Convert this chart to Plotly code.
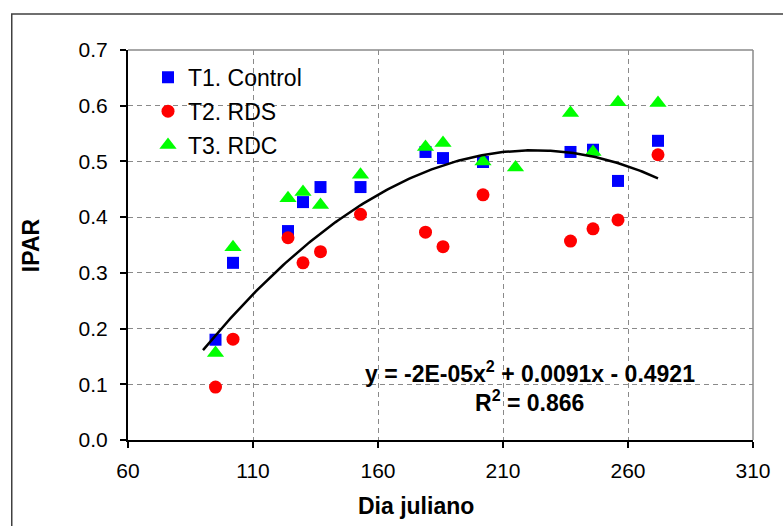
import numpy as np
import plotly.graph_objects as go

# Julian day of each sampling date
dias_t1 = [95, 102, 124, 130, 137, 153, 179, 186, 202, 237, 246, 256, 272]
ipar_t1 = [0.180, 0.318, 0.375, 0.427, 0.454, 0.454, 0.517, 0.506, 0.499, 0.517, 0.521, 0.465, 0.537]

dias_t2 = [95, 102, 124, 130, 137, 153, 179, 186, 202, 237, 246, 256, 272]
ipar_t2 = [0.095, 0.181, 0.363, 0.318, 0.338, 0.405, 0.373, 0.347, 0.440, 0.357, 0.379, 0.395, 0.512]

dias_t3 = [95, 102, 124, 130, 137, 153, 179, 186, 202, 215, 237, 246, 256, 272]
ipar_t3 = [0.156, 0.346, 0.434, 0.445, 0.422, 0.476, 0.526, 0.533, 0.500, 0.489, 0.587, 0.517, 0.606, 0.605]

series_names = ["T1. Control", "T2. RDS", "T3. RDC"]

# Polynomial trendline coefficients (a*x^2 + b*x + c)
trend_coef = [-2.0455e-05, 0.0091, -0.4921]
trend_range = [90, 272]
trend_lines = ["y = -2E-05x<sup>2</sup> + 0.0091x - 0.4921", "R<sup>2</sup> = 0.866"]

x_ticks = [60, 110, 160, 210, 260, 310]
y_ticks = [0.0, 0.1, 0.2, 0.3, 0.4, 0.5, 0.6, 0.7]

FONT = "Liberation Sans, Arial, sans-serif"
GRID = "#8a8a8a"

fig = go.Figure()

fig.add_trace(go.Scatter(
    x=dias_t1, y=ipar_t1, mode="markers", name=series_names[0], legendgroup="t1",
    marker=dict(symbol="square", size=12, color="#0000ff", line=dict(width=0)),
))
fig.add_trace(go.Scatter(
    x=dias_t2, y=ipar_t2, mode="markers", name=series_names[1], legendgroup="t2",
    marker=dict(symbol="circle", size=13, color="#ff0000", line=dict(width=0)),
))
fig.add_trace(go.Scatter(
    x=dias_t3, y=ipar_t3, mode="markers", name=series_names[2], legendgroup="t3",
    marker=dict(symbol="triangle-up", size=15, color="#00ff00", line=dict(width=0)),
))

xt = np.linspace(trend_range[0], trend_range[1], 200)
yt = np.polyval(trend_coef, xt)
fig.add_trace(go.Scatter(
    x=xt, y=yt, mode="lines", showlegend=False, hoverinfo="skip",
    line=dict(color="black", width=2.5),
))

fig.update_xaxes(
    range=[60, 310], tickvals=x_ticks, ticktext=[str(v) for v in x_ticks],
    showline=True, linecolor="black", linewidth=2,
    ticks="outside", ticklen=6, tickwidth=1.5, tickcolor="black",
    showgrid=True, gridcolor=GRID, gridwidth=1.3, griddash="5px,4px",
    zeroline=False, tickfont=dict(family=FONT, size=21, color="black"),
    ticklabelstandoff=5,
)
fig.update_yaxes(
    range=[0, 0.7], tickvals=y_ticks, ticktext=[f"{v:.1f}" for v in y_ticks],
    showline=True, linecolor="black", linewidth=2,
    ticks="outside", ticklen=6, tickwidth=1.5, tickcolor="black",
    showgrid=True, gridcolor=GRID, gridwidth=1.3, griddash="5px,4px",
    zeroline=False, tickfont=dict(family=FONT, size=21, color="black"),
    ticklabelstandoff=8,
)

# Axis titles
fig.add_annotation(
    xref="paper", yref="paper", x=0.46, y=-0.169, xanchor="center", yanchor="middle",
    showarrow=False, text="<b>Dia juliano</b>",
    font=dict(family=FONT, size=23, color="black"),
)
fig.add_annotation(
    xref="paper", yref="paper", x=-0.155, y=0.5, xanchor="center", yanchor="middle",
    showarrow=False, text="<b>IPAR</b>", textangle=-90,
    font=dict(family=FONT, size=23, color="black"),
)

# Plot-area border on the top and right, outer chart frame
fig.add_shape(type="line", xref="paper", yref="paper", x0=0, x1=1, y0=1, y1=1,
              line=dict(color=GRID, width=1.5))
fig.add_shape(type="line", xref="paper", yref="paper", x0=1, x1=1, y0=0, y1=1,
              line=dict(color=GRID, width=1.5))
fig.add_shape(type="rect", xref="paper", yref="paper",
              x0=-0.186, x1=1.1, y0=-0.3, y1=1.092,
              line=dict(color="#404040", width=1.5))

# Trendline equation
fig.add_annotation(
    xref="paper", yref="paper", x=0.643, y=0.174, xanchor="center", yanchor="middle",
    showarrow=False, text="<b>" + trend_lines[0] + "</b>",
    font=dict(family=FONT, size=23, color="black"),
)
fig.add_annotation(
    xref="paper", yref="paper", x=0.643, y=0.099, xanchor="center", yanchor="middle",
    showarrow=False, text="<b>" + trend_lines[1] + "</b>",
    font=dict(family=FONT, size=23, color="black"),
)

fig.update_layout(
    width=783, height=526,
    margin=dict(l=128, r=23, t=50, b=86),
    paper_bgcolor="white", plot_bgcolor="white",
    showlegend=True,
    legend=dict(
        x=0.032, y=0.985, xanchor="left", yanchor="top",
        bgcolor="rgba(0,0,0,0)", tracegroupgap=1,
        font=dict(family=FONT, size=23, color="black"),
    ),
)

fig.write_html("out.html")
